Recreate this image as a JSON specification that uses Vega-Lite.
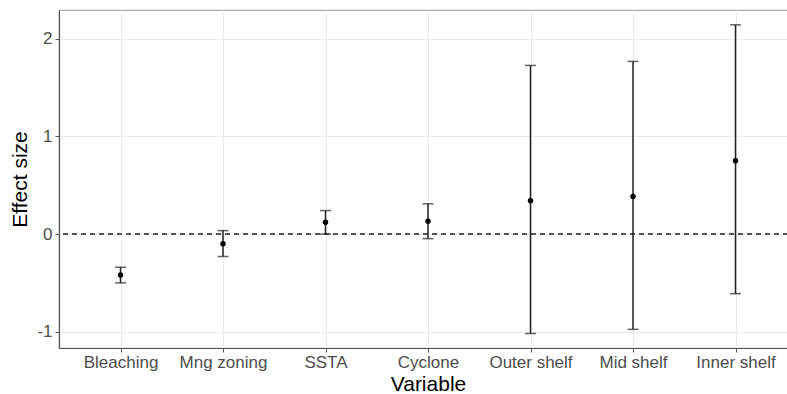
{
  "$schema": "https://vega.github.io/schema/vega-lite/v6.json",
  "autosize": "none",
  "width": 738,
  "height": 338,
  "padding": {"left": 59, "top": 10, "right": 0, "bottom": 46},
  "background": "white",
  "config": {
    "font": "Liberation Sans",
    "view": {"stroke": "#aaaaaa", "strokeWidth": 1.2},
    "axis": {
      "gridColor": "#ebebeb",
      "gridWidth": 1,
      "domainColor": "#555555",
      "domainWidth": 1.2,
      "tickColor": "#555555",
      "tickSize": 4,
      "labelColor": "#4d4d4d",
      "labelFont": "Liberation Sans",
      "labelFontSize": 17,
      "titleFont": "Liberation Sans",
      "titleFontSize": 21,
      "titleFontWeight": "normal",
      "titleColor": "#000000"
    }
  },
  "data": {
    "values": [
      {"Variable": "Bleaching", "est": -0.42, "lower": -0.50, "upper": -0.34},
      {"Variable": "Mng zoning", "est": -0.10, "lower": -0.23, "upper": 0.035},
      {"Variable": "SSTA", "est": 0.12, "lower": 0.0, "upper": 0.24},
      {"Variable": "Cyclone", "est": 0.13, "lower": -0.047, "upper": 0.31},
      {"Variable": "Outer shelf", "est": 0.34, "lower": -1.018, "upper": 1.725},
      {"Variable": "Mid shelf", "est": 0.385, "lower": -0.975, "upper": 1.766},
      {"Variable": "Inner shelf", "est": 0.75, "lower": -0.61, "upper": 2.14}
    ]
  },
  "encoding": {
    "x": {
      "field": "Variable",
      "type": "nominal",
      "sort": ["Bleaching", "Mng zoning", "SSTA", "Cyclone", "Outer shelf", "Mid shelf", "Inner shelf"],
      "scale": {"type": "point", "padding": 0.6},
      "axis": {"labelAngle": 0, "labelPadding": 2, "title": "Variable", "titlePadding": 3, "grid": true}
    }
  },
  "layer": [
    {
      "mark": {"type": "rule", "color": "#555555", "strokeDash": [5, 4], "strokeWidth": 1.5},
      "encoding": {"y": {"datum": 0, "type": "quantitative"}, "x": null}
    },
    {
      "mark": {"type": "rule", "color": "#222222", "strokeWidth": 1.5},
      "encoding": {
        "y": {
          "field": "lower",
          "type": "quantitative",
          "scale": {"domain": [-1.166, 2.292], "nice": false, "zero": false},
          "axis": {"values": [-1, 0, 1, 2], "labelExpr": "toString(datum.value)", "title": "Effect size", "titlePadding": 6, "labelPadding": 3, "grid": true}
        },
        "y2": {"field": "upper"}
      }
    },
    {
      "mark": {"type": "tick", "color": "#222222", "size": 11, "thickness": 1.5},
      "encoding": {"y": {"field": "lower", "type": "quantitative"}}
    },
    {
      "mark": {"type": "tick", "color": "#222222", "size": 11, "thickness": 1.5},
      "encoding": {"y": {"field": "upper", "type": "quantitative"}}
    },
    {
      "mark": {"type": "point", "filled": true, "color": "#000000", "size": 30, "opacity": 1},
      "encoding": {"y": {"field": "est", "type": "quantitative"}}
    }
  ]
}
